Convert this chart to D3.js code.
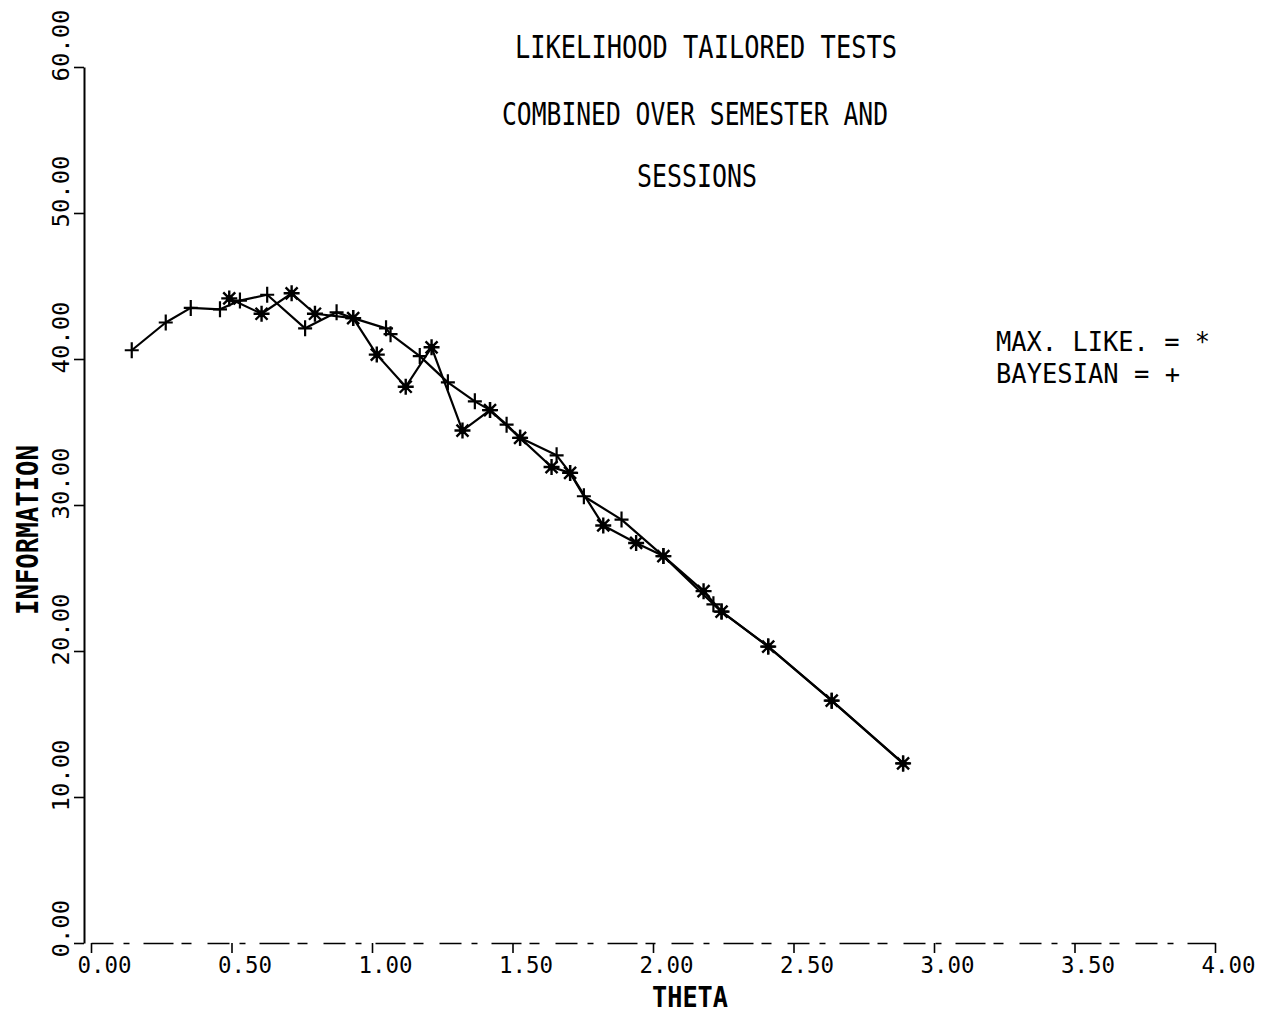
<!DOCTYPE html>
<html>
<head>
<meta charset="utf-8">
<script src="https://cdn.jsdelivr.net/npm/d3@7"></script>
<style>
    body { margin: 0; background: #fff; }
    svg { display: block; }
</style>
</head>
<body>
<svg id="chart" width="1267" height="1014"></svg>
<script>
/*
    Data
*/
// Bayesian estimates (+)
const bayesTheta = [0.145, 0.266, 0.355, 0.459, 0.53, 0.627, 0.762, 0.874, 0.933, 1.05, 1.066, 1.17, 1.27,
    1.366, 1.42, 1.479, 1.527, 1.657, 1.705, 1.754, 1.888, 2.037, 2.215, 2.244, 2.41, 2.636, 2.89];
const bayesInfo = [40.6, 42.5, 43.5, 43.4, 44.0, 44.4, 42.1, 43.2, 42.8, 42.1, 41.7, 40.2, 38.4,
    37.1, 36.5, 35.5, 34.6, 33.4, 32.2, 30.6, 29.0, 26.5, 23.2, 22.7, 20.3, 16.6, 12.3];

// Max. likelihood estimates (*)
const mlTheta = [0.492, 0.607, 0.714, 0.797, 0.933, 1.017, 1.12, 1.212, 1.322, 1.42, 1.527, 1.639,
    1.705, 1.823, 1.94, 2.037, 2.18, 2.244, 2.41, 2.636, 2.89];
const mlInfo = [44.15, 43.1, 44.5, 43.1, 42.8, 40.3, 38.1, 40.8, 35.1, 36.5, 34.6, 32.6,
    32.2, 28.6, 27.4, 26.5, 24.1, 22.7, 20.3, 16.6, 12.3];

const xTicks = [0, 0.5, 1, 1.5, 2, 2.5, 3, 3.5, 4];
const yTicks = [0, 10, 20, 30, 40, 50, 60];

const titleLines = ["LIKELIHOOD TAILORED TESTS", "COMBINED OVER SEMESTER AND", "SESSIONS"];
const legendLines = ["MAX. LIKE. = *", "BAYESIAN = +"];

/*
    Setup
*/
const svg = d3.select("#chart");
const font = "'DejaVu Sans Mono', monospace";
const fmt = d3.format(".2f");

const x = d3.scaleLinear().domain([0, 4]).range([91, 1215]);
const y = d3.scaleLinear().domain([0, 60]).range([943, 67]);
const yAxisX = 84;

// X axis (faint, broken line on the scan)
const xAxis = svg.append("g")
    .attr("transform", `translate(0, ${y(0)})`)
    .call(d3.axisBottom(x).tickValues(xTicks).tickSize(10).tickSizeOuter(0).tickFormat(fmt));
xAxis.attr("font-family", font).attr("font-size", 23);
xAxis.select(".domain")
    .attr("stroke-width", 1.5)
    .attr("stroke-dasharray", "22,10,6,14,30,8,10,16");
xAxis.selectAll(".tick line").attr("stroke-width", 1.6);
xAxis.selectAll(".tick text")
    .attr("fill", "#000")
    .attr("text-anchor", "start")
    .attr("x", -14)
    .attr("y", 30)
    .attr("dy", null)
    .attr("textLength", d => fmt(d).length * 13.5)
    .attr("lengthAdjust", "spacingAndGlyphs");

// Y axis, labels turned sideways
const yAxis = svg.append("g")
    .attr("transform", `translate(${yAxisX}, 0)`)
    .call(d3.axisLeft(y).tickValues(yTicks).tickSize(10).tickSizeOuter(0).tickFormat(fmt));
yAxis.attr("font-family", font).attr("font-size", 23);
yAxis.select(".domain").attr("stroke-width", 2);
yAxis.selectAll(".tick line").attr("stroke-width", 1.6);
yAxis.selectAll(".tick text")
    .attr("fill", "#000")
    .attr("transform", "rotate(-90)")
    .attr("text-anchor", "start")
    .attr("x", -14)
    .attr("y", -15)
    .attr("dy", null)
    .attr("textLength", d => fmt(d).length * 14.4)
    .attr("lengthAdjust", "spacingAndGlyphs");

// Axis titles
svg.append("text")
    .attr("transform", "translate(38, 530) rotate(-90)")
    .attr("text-anchor", "middle")
    .attr("font-family", font)
    .attr("font-weight", "bold")
    .attr("font-size", 31)
    .attr("textLength", 170)
    .attr("lengthAdjust", "spacingAndGlyphs")
    .text("INFORMATION");
svg.append("text")
    .attr("x", 690)
    .attr("y", 1007)
    .attr("text-anchor", "middle")
    .attr("font-family", font)
    .attr("font-weight", "bold")
    .attr("font-size", 28)
    .attr("textLength", 76)
    .attr("lengthAdjust", "spacingAndGlyphs")
    .text("THETA");

// Title block
const titlePos = [[515, 58, 382], [502, 125, 386], [637, 187, 120]];
titleLines.forEach((t, i) => {
    svg.append("text")
        .attr("x", titlePos[i][0])
        .attr("y", titlePos[i][1])
        .attr("font-family", font)
        .attr("font-size", 32)
        .attr("textLength", titlePos[i][2])
        .attr("lengthAdjust", "spacingAndGlyphs")
        .text(t);
});

// Legend
const legendPos = [[996, 351, 214], [996, 383, 184]];
legendLines.forEach((t, i) => {
    svg.append("text")
        .attr("x", legendPos[i][0])
        .attr("y", legendPos[i][1])
        .attr("font-family", font)
        .attr("font-size", 26)
        .attr("textLength", legendPos[i][2])
        .attr("lengthAdjust", "spacingAndGlyphs")
        .text(t);
});

/*
    Series
*/
const bayes = bayesTheta.map((t, i) => [t, bayesInfo[i]]);
const ml = mlTheta.map((t, i) => [t, mlInfo[i]]);

const line = d3.line().x(d => x(d[0])).y(d => y(d[1]));

[bayes, ml].forEach(series => {
    svg.append("path")
        .datum(series)
        .attr("d", line)
        .attr("fill", "none")
        .attr("stroke", "#000")
        .attr("stroke-width", 2.2)
        .attr("stroke-linejoin", "round");
});

// plus markers
svg.append("g").selectAll("path")
    .data(bayes)
    .enter()
    .append("path")
    .attr("transform", d => `translate(${x(d[0])}, ${y(d[1])})`)
    .attr("d", "M-7,0H7M0,-8V8")
    .attr("stroke", "#000")
    .attr("stroke-width", 2.2);

// asterisk markers
const stars = svg.append("g").selectAll("g")
    .data(ml)
    .enter()
    .append("g")
    .attr("transform", d => `translate(${x(d[0])}, ${y(d[1])})`);
stars.append("path")
    .attr("d", "M-8,0H8M0,-8V8M-6,-6L6,6M-6,6L6,-6")
    .attr("stroke", "#000")
    .attr("stroke-width", 2.4);
stars.append("circle")
    .attr("r", 3.5)
    .attr("fill", "#000");
</script>
</body>
</html>
